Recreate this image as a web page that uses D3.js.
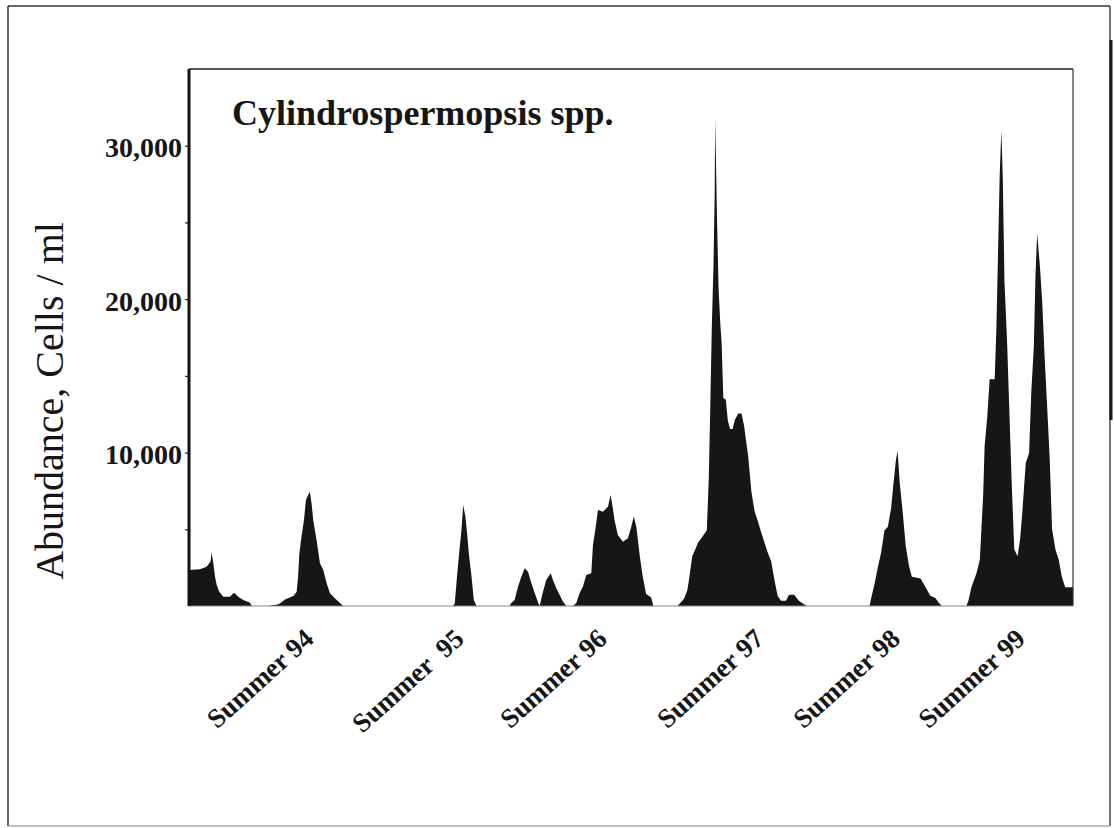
<!DOCTYPE html>
<html>
<head>
<meta charset="utf-8">
<script src="https://cdn.jsdelivr.net/npm/d3@7"></script>
<style>
  body { margin: 0; background: #fff; }
  svg text { font-family: "Liberation Serif", "Times New Roman", serif; fill: #161616; }
</style>
</head>
<body>
<div id="chart"></div>
<script>
// sampling week (from start of record) and abundance, cells / ml
var weeks = [0, 3.9, 6.3, 7.7, 8.1, 8.7, 9.3, 9.9, 10.8, 12.3, 14.6, 16.1, 17.6, 19.4, 21.8, 22.4,
  28.3, 31.3, 32.5, 34.3, 37.3, 38.5, 39.0, 39.4, 40.2, 41.1, 41.8, 42.6, 43.2, 43.8, 44.4, 45.6,
  46.8, 48.0, 49.2, 50.4, 52.1, 53.9, 55.1,
  94.4, 95.0, 95.8, 96.5, 97.4, 98.0, 98.8, 99.4, 100.1, 101.0, 101.8, 102.8,
  114.6, 115.2, 116.4, 117.6, 118.8, 120.0, 121.2, 122.4, 123.6, 124.8, 125.4, 126.2, 127.7,
  129.3, 130.1, 131.3, 132.5, 133.7, 134.9,
  137.3, 138.5, 139.6, 140.8, 142.0, 143.8, 144.4, 145.4, 146.2, 148.0, 149.8, 150.7, 151.5,
  152.1, 153.3, 155.1, 156.9, 158.1, 159.0, 159.9, 161.1, 162.2, 163.4, 165.2, 166.0,
  174.6, 175.2, 176.9, 178.1, 178.7, 179.9, 181.0, 182.0, 183.4, 185.1, 185.8, 186.3, 186.9,
  187.5, 187.9, 188.1, 188.7, 189.3, 189.9, 190.4, 191.0, 191.9, 192.6, 193.4, 194.3, 195.1,
  196.3, 197.5, 198.4, 199.9, 201.0, 202.2, 203.4, 204.5, 205.7, 206.9, 208.1, 209.3, 210.4,
  211.6, 213.4, 214.5, 216.3, 218.0, 219.8, 221.0,
  243.3, 243.9, 245.1, 246.3, 247.4, 248.6, 249.8, 251.0, 251.8, 252.7, 253.3, 254.1, 255.1,
  256.2, 257.4, 258.4, 261.5, 263.3, 265.0, 266.8, 268.0, 269.1,
  277.9, 278.6, 279.7, 281.5, 282.7, 283.9, 284.4, 285.4, 286.2, 288.0, 288.6, 289.2, 289.8,
  290.4, 290.9, 291.5, 292.5, 293.3, 294.1, 295.0, 296.2, 297.1, 297.9, 299.1, 300.3, 301.1,
  302.0, 302.6, 303.2, 304.2, 305.0, 305.8, 306.7, 307.7, 308.5, 309.7, 310.9, 312.0, 313.2,
  314.4, 316];

var cells = [2350, 2400, 2560, 2900, 3480, 2780, 1900, 1370, 930, 600, 600, 870, 600, 390, 215, 0,
  0, 80, 170, 430, 650, 930, 1910, 3330, 4520, 5610, 6910, 7240, 7450, 6700, 5610, 4300,
  2780, 2350, 1480, 830, 500, 215, 0,
  0, 170, 1910, 3300, 4960, 6590, 5830, 4740, 3300, 1910, 390, 0,
  0, 200, 390, 1260, 1910, 2460, 2240, 1480, 830, 215, 0, 700, 1700,
  2130, 1700, 1150, 720, 280, 0,
  0, 215, 830, 1260, 2020, 2130, 3980, 5170, 6260, 6150, 6480, 7240, 6370,
  5610, 4630, 4190, 4410, 5170, 5830, 5170, 3300, 1900, 780, 560, 0,
  0, 110, 450, 1000, 1680, 3250, 3700, 4140, 4480, 4930, 8290, 12660, 18260,
  22290, 26660, 31740, 25650, 20720, 18480, 17140, 13550, 13440, 12100, 11540, 11540, 12100,
  12540, 12540, 11760, 9740, 7500, 6160, 5490, 4820, 4140, 3470, 2910, 1680, 670,
  340, 340, 740, 740, 340, 110, 0,
  0, 560, 1460, 2580, 3470, 4930, 5150, 6380, 7950, 9520, 10080, 7950, 6160,
  3920, 2580, 1900, 1790, 1230, 670, 520, 220, 0,
  0, 340, 1230, 2130, 3020, 7280, 10420, 12430, 14780, 14780, 18030, 22960, 28110,
  31020, 27890, 21170, 16910, 12430, 7950, 3700, 3250, 4370, 6160, 9300, 9970, 14000,
  16910, 21620, 24300, 22060, 19820, 16460, 13220, 9520, 5040, 3700, 3020, 1900, 1230,
  1230, 1230];

var seasonWeeks = [45.0, 98.7, 149.8, 205.9, 254.6, 299.3];
var seasonLabels = ["Summer 94", "Summer  95", "Summer 96", "Summer 97", "Summer 98", "Summer 99"];
var yMajor = [10000, 20000, 30000];
var yMinor = [5000, 15000, 25000];

var width = 1114;
var height = 828;
var margin = {top: 69, right: 41, bottom: 222, left: 189};
var innerW = width - margin.left - margin.right;
var innerH = height - margin.top - margin.bottom;

var data = weeks.map(function(w, i) { return {week: w, cells: cells[i]}; });

var svg = d3.select("#chart")
  .append("svg")
  .attr("width", width)
  .attr("height", height);

// outer frame (scan edges: dark top/left/right, pale bottom)
var frame = svg.append("g").attr("stroke-width", 1.5);
frame.append("line").attr("x1", 8).attr("x2", 1110).attr("y1", 6).attr("y2", 6).attr("stroke", "#333");
frame.append("line").attr("x1", 8).attr("x2", 8).attr("y1", 6).attr("y2", 826).attr("stroke", "#333");
frame.append("line").attr("x1", 1110).attr("x2", 1110).attr("y1", 6).attr("y2", 826).attr("stroke", "#444");
frame.append("line").attr("x1", 8).attr("x2", 1110).attr("y1", 826).attr("y2", 826).attr("stroke", "#aaa");

svg.append("line")
  .attr("x1", 1111).attr("x2", 1111)
  .attr("y1", 40).attr("y2", 420)
  .attr("stroke", "#1a1a1a")
  .attr("stroke-width", 3);

var g = svg.append("g")
  .attr("transform", "translate(" + margin.left + "," + margin.top + ")");

var x = d3.scaleLinear().domain([0, 316]).range([0, innerW]);
var y = d3.scaleLinear().domain([0, 35000]).range([innerH, 0]);

var area = d3.area()
  .x(function(d) { return x(d.week); })
  .y0(y(0))
  .y1(function(d) { return y(d.cells); })
  .curve(d3.curveLinear);

g.append("path")
  .datum(data)
  .attr("d", area)
  .attr("fill", "#161616");

// plot box: top and right thin, bottom grey
g.append("line")
  .attr("x1", 0).attr("x2", innerW)
  .attr("y1", 0).attr("y2", 0)
  .attr("stroke", "#222").attr("stroke-width", 1.5);

g.append("line")
  .attr("x1", innerW).attr("x2", innerW)
  .attr("y1", 0).attr("y2", innerH)
  .attr("stroke", "#333").attr("stroke-width", 1.2);

g.append("line")
  .attr("x1", 0).attr("x2", innerW)
  .attr("y1", innerH).attr("y2", innerH)
  .attr("stroke", "#888").attr("stroke-width", 1.2);

// y axis
var yAxis = g.append("g")
  .call(d3.axisLeft(y)
    .tickValues(yMajor.concat(yMinor))
    .tickSize(4)
    .tickPadding(3)
    .tickFormat(function(d) { return yMajor.indexOf(d) >= 0 ? d3.format(",")(d) : ""; }));

yAxis.select(".domain").remove();
yAxis.selectAll(".tick line").attr("stroke", "#222").attr("stroke-width", 1.2);
yAxis.selectAll(".tick text")
  .attr("dy", "0.4em")
  .attr("font-size", 28)
  .attr("font-weight", "bold")
  .attr("font-family", "Liberation Serif");

g.append("line")
  .attr("x1", 0).attr("x2", 0)
  .attr("y1", 0).attr("y2", innerH)
  .attr("stroke", "#111").attr("stroke-width", 3);

// x axis, season labels
var xAxis = g.append("g")
  .attr("transform", "translate(0," + innerH + ")")
  .call(d3.axisBottom(x)
    .tickValues(seasonWeeks)
    .tickSize(0)
    .tickFormat(function(d, i) { return seasonLabels[i]; }));

xAxis.select(".domain").remove();
xAxis.selectAll(".tick text")
  .attr("x", 0).attr("y", 0).attr("dy", 0)
  .attr("transform", "translate(0,35) rotate(-42)")
  .style("text-anchor", "end")
  .style("white-space", "pre")
  .attr("font-size", 27)
  .attr("font-weight", "bold")
  .attr("font-family", "Liberation Serif");

// title inside plot
g.append("text")
  .attr("x", 232 - margin.left)
  .attr("y", 125 - margin.top)
  .attr("font-size", 36)
  .attr("font-weight", "bold")
  .text("Cylindrospermopsis spp.");

// y label
svg.append("text")
  .attr("transform", "translate(63,401) rotate(-90)")
  .attr("text-anchor", "middle")
  .attr("font-size", 40)
  .text("Abundance, Cells / ml");
</script>
</body>
</html>
